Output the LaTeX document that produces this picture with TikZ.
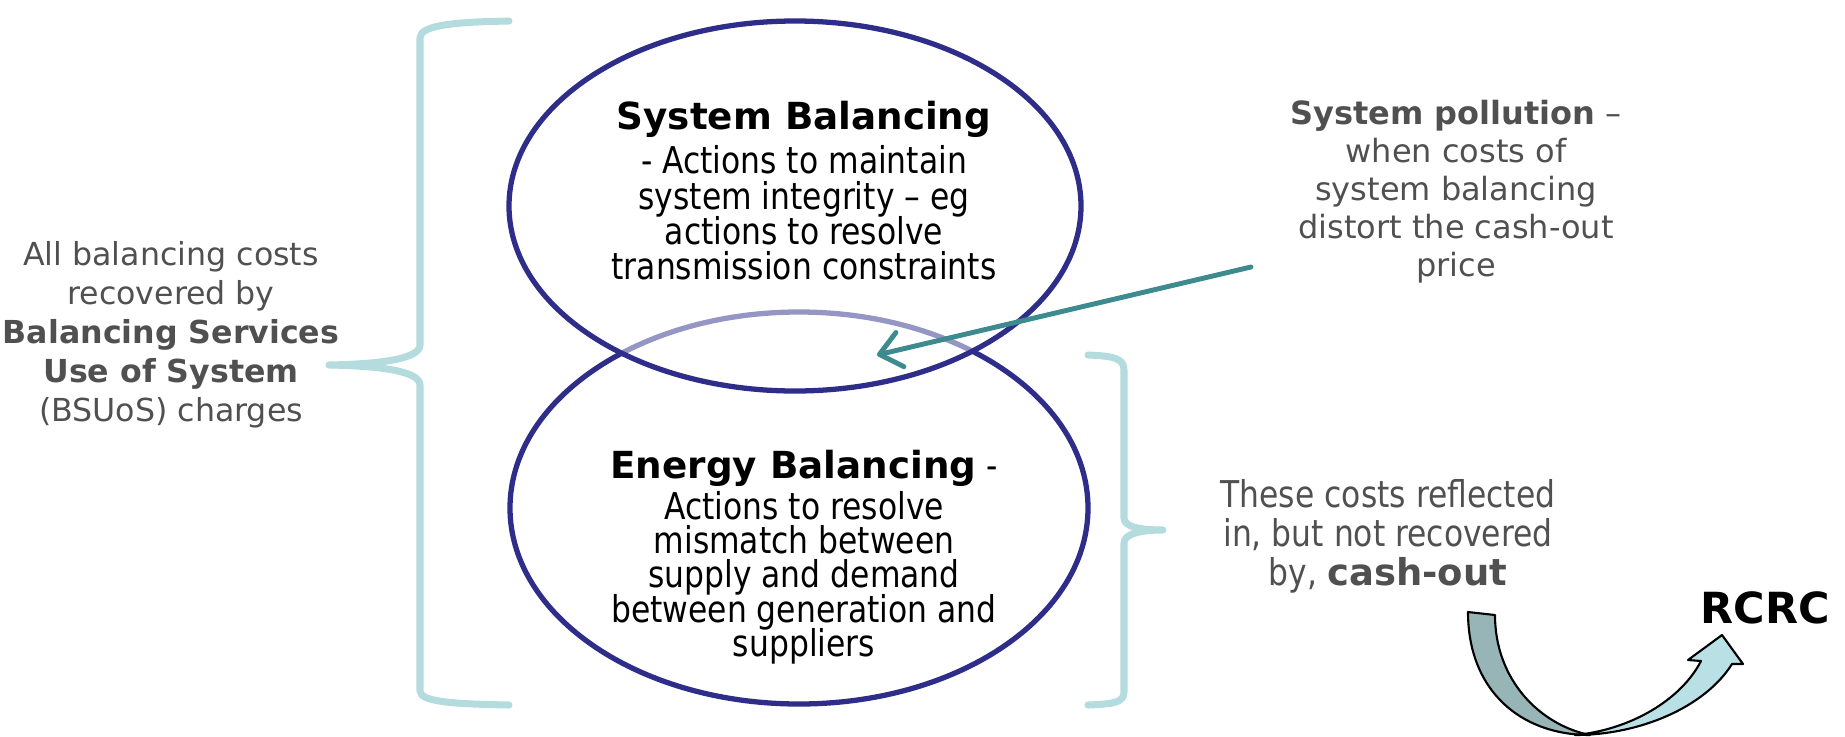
\documentclass[tikz,border=0pt]{standalone}
\usepackage{fontspec}
\setmainfont{DejaVu Sans}
\newfontfamily\narrowsans[FakeStretch=0.85]{DejaVu Sans}
\usetikzlibrary{arrows.meta}

\definecolor{ringnavy}{HTML}{2E2E8A}
\definecolor{bracecol}{HTML}{B4DCDF}
\definecolor{pollteal}{HTML}{3D8B8F}
\definecolor{txtgrey}{HTML}{505050}
\definecolor{ribbondark}{HTML}{97B5B7}
\definecolor{ribbonlight}{HTML}{B9E0E4}

\tikzset{
  ring/.style={draw=ringnavy, line width=1.5pt},
  brace/.style={draw=bracecol, line width=2pt, line cap=round, line join=round},
  sidetext/.style={text=txtgrey, align=center, inner sep=0pt,
    font=\fontsize{9}{11.1}\selectfont},
  ringtext/.style={text=black, align=center, inner sep=0pt,
    font=\narrowsans\fontsize{10.5}{10.05}\selectfont},
  ribbon/.style={draw=black, line width=0.6pt, line join=round},
}

\begin{document}
% let baselines stay evenly spaced even where lines come close
\setlength{\lineskiplimit}{-10pt}
\begin{tikzpicture}[x=0.01cm, y=-0.01cm]
\useasboundingbox (0,0) rectangle (1845,736);

% the two overlapping rings
\draw[ring] (799,508) ellipse [x radius=289, y radius=196];
\fill[white, opacity=0.5] (795,206) ellipse [x radius=286, y radius=185];
\draw[ring] (795,206) ellipse [x radius=286, y radius=185];

% left brace
\draw[brace] (509,21) .. controls (455,22) and (420,25) .. (420,38)
  -- (420,345) .. controls (420,358) and (385,364) .. (329,365)
  .. controls (385,366) and (420,372) .. (420,385)
  -- (420,691) .. controls (420,702) and (455,704) .. (509,705);

% right brace
\draw[brace] (1088,355) .. controls (1115,356) and (1124,359) .. (1124,370)
  -- (1124,518) .. controls (1124,527) and (1140,530) .. (1163,530)
  .. controls (1140,530) and (1124,534) .. (1124,543)
  -- (1124,692) .. controls (1124,702) and (1115,704) .. (1088,705);

% texts
\node[sidetext] (bsuos) at (171,335)
  {All balancing costs\\ recovered by\\ \textbf{Balancing Services}\\
   \textbf{Use of System}\\ (BSUoS) charges};

\node[ringtext] (sysbal) at (804,191)
  {{\setmainfont{DejaVu Sans}\bfseries\fontsize{10.6}{12}\selectfont System Balancing}\\[2.5pt]
   - Actions to maintain\\ system integrity – eg\\ actions to resolve\\
   transmission constraints};

\node[ringtext, font=\narrowsans\fontsize{10.5}{9.75}\selectfont] (enbal) at (804,557)
  {{\setmainfont{DejaVu Sans}\bfseries\fontsize{10.6}{12}\selectfont Energy Balancing} -\\[2pt]
   Actions to resolve\\ mismatch between\\ supply and demand\\
   between generation and\\ suppliers};

\node[sidetext, font=\fontsize{9.1}{10.8}\selectfont] (pollution) at (1456,192)
  {\textbf{System pollution} –\\ when costs of\\ system balancing\\
   distort the cash-out\\ price};

\node[sidetext, font=\narrowsans\fontsize{10.5}{11.1}\selectfont] (cashout) at (1388,536)
  {These costs reflected\\ in, but not recovered\\
   by, {\setmainfont{DejaVu Sans}\bfseries cash-out}};

\node[inner sep=0pt, font=\bfseries\fontsize{12.2}{14}\selectfont] (rcrc) at (1765,608) {RCRC};

% pollution pointer
\coordinate (pstart) at (1251,267);
\coordinate (pend) at (877,355);
\draw[pollteal, line width=1.4pt, line cap=round,
  -{Straight Barb[length=6pt, width=10pt, round]}] (pstart) -- (pend);

% curved ribbon arrow towards RCRC
\filldraw[ribbon, fill=ribbondark]
  (1468,612) -- (1495,615)
  .. controls (1495,680) and (1540,725) .. (1590,735)
  .. controls (1520,735) and (1468,690) .. (1468,612) -- cycle;
\filldraw[ribbon, fill=ribbonlight]
  (1575,735) .. controls (1630,730) and (1681,700) .. (1701,661)
  -- (1688,660) -- (1722,635) -- (1743,664) -- (1732,664)
  .. controls (1705,707) and (1640,735) .. (1575,735) -- cycle;
\end{tikzpicture}
\end{document}
